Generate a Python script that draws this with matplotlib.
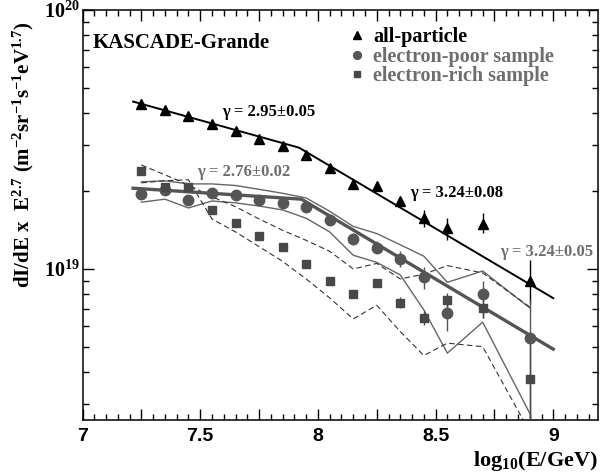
import numpy as np
import matplotlib
matplotlib.use("Agg")
import matplotlib.pyplot as plt
from matplotlib.ticker import FixedLocator, FuncFormatter, NullFormatter, LogLocator

# ---------------- data (fluxes in units of 1e18 m^-2 sr^-1 s^-1 eV^1.7) ----------------
log_e = [7.25, 7.35, 7.45, 7.55, 7.65, 7.75, 7.85, 7.95, 8.05, 8.15, 8.25, 8.35, 8.45, 8.55, 8.70, 8.90]

all_flux = [43.3, 41.1, 39.1, 36.3, 34.2, 31.7, 29.9, 27.5, 24.5, 21.3, 20.9, 18.3, 15.7, 14.4, 14.9, 9.0]
all_err_lo = [0, 0, 0, 0, 0, 0, 0, 0, 0, 0, 0, 0, 1.2, 1.5, 1.1, 1.7]
all_err_hi = [0, 0, 0, 0, 0, 0, 0, 0, 0, 0, 0, 0, 1.2, 1.3, 1.5, 1.8]

poor_flux = [19.4, 20.2, 18.5, 19.6, 19.3, 18.5, 17.9, 17.3, 15.5, 13.1, 12.1, 10.9, 9.31, 6.74, 7.98, 5.43]
poor_err_lo = [0, 0, 0, 0, 0, 0, 0, 0, 0, 0.7, 0.6, 0.75, 0.94, 1.0, 1.53, 2.9]
poor_err_hi = [0, 0, 0, 0, 0, 0, 0, 0, 0, 0.7, 0.7, 0.8, 0.87, 0.83, 0.98, 2.18]

rich_flux = [23.9, 20.7, 20.7, 16.9, 15.0, 13.46, 12.2, 10.42, 9.02, 8.0, 8.8, 7.41, 6.49, 7.59, 7.09, 3.75]
rich_err_lo = [0, 0, 0, 0, 0, 0, 0, 0, 0, 0, 0, 0.35, 0.4, 0.5, 0.6, 1.3]
rich_err_hi = [0, 0, 0, 0, 0, 0, 0, 0, 0, 0, 0, 0.35, 0.4, 0.5, 0.6, 1.5]

# systematic bands
poor_band_hi = [21.7, 21.9, 21.3, 21.3, 21.0, 20.3, 19.6, 18.8, 16.7, 14.6, 13.7, 12.4, 11.2, 8.88, 9.82, 7.07]
poor_band_lo = [18.1, 18.6, 17.2, 18.3, 18.0, 17.5, 16.9, 15.7, 13.9, 11.3, 10.6, 9.48, 6.95, 4.73, 6.23, 2.77]
rich_band_hi = [25.2, 23.1, 21.1, 19.0, 17.4, 15.6, 14.1, 12.9, 11.7, 10.0, 10.5, 9.15, 9.54, 10.3, 9.65, 7.13]
rich_band_lo = [21.5, 21.9, 22.1, 15.6, 13.9, 12.2, 10.7, 9.15, 7.73, 6.41, 7.24, 5.73, 4.63, 5.17, 5.01, 2.35]

# broken power-law fits (start, knee, end)
fit_all_x = [7.215, 7.92, 9.0]
fit_all_y = [44.3, 29.4, 7.71]
fit_poor_x = [7.215, 7.93, 9.0]
fit_poor_y = [20.5, 18.6, 4.90]

legend_labels = ["all-particle", "electron-poor sample", "electron-rich sample"]
gamma_texts = ["\u03b3 = 2.95\u00b10.05", "\u03b3 = 2.76\u00b10.02",
               "\u03b3 = 3.24\u00b10.08", "\u03b3 = 3.24\u00b10.05"]

UNIT = 1e18
def sc(v):
    return np.asarray(v, dtype=float) * UNIT

# ---------------- style ----------------
plt.rcParams["font.family"] = ["Liberation Serif", "DejaVu Serif"]
plt.rcParams["font.weight"] = "bold"
plt.rcParams["mathtext.fontset"] = "custom"
plt.rcParams["mathtext.rm"] = "Liberation Serif"
plt.rcParams["mathtext.bf"] = "Liberation Serif:bold"
plt.rcParams["mathtext.it"] = "Liberation Serif:italic"

BLACK = "#000000"
GREY_M = "#555555"
GREY_S = "#484848"
GREY_L = "#666666"
GREY_T = "#6e6e6e"

fig = plt.figure(figsize=(6.01, 4.74), dpi=100)
ax = fig.add_axes([82.5 / 601, 1 - 420 / 474, (598 - 82.5) / 601, 410 / 474])
ax.set_yscale("log")

# bands
ax.plot(log_e, sc(poor_band_hi), color=GREY_L, lw=1.0, zorder=2)
ax.plot(log_e, sc(poor_band_lo), color=GREY_L, lw=1.0, zorder=2)
ax.plot(log_e, sc(rich_band_hi), color="#333333", lw=0.8, ls=(0, (5, 3)), zorder=2)
ax.plot(log_e, sc(rich_band_lo), color="#333333", lw=0.8, ls=(0, (5, 3)), zorder=2)

# fits
ax.plot(fit_all_x, sc(fit_all_y), color=BLACK, lw=1.4, zorder=3)
ax.plot(fit_poor_x, sc(fit_poor_y), color=GREY_M, lw=2.4, zorder=3)

# error bars
ax.errorbar(log_e, sc(all_flux), yerr=[sc(all_err_lo), sc(all_err_hi)], fmt="none",
            ecolor=BLACK, elinewidth=1.0, capsize=0, zorder=4)
ax.errorbar(log_e, sc(poor_flux), yerr=[sc(poor_err_lo), sc(poor_err_hi)], fmt="none",
            ecolor=GREY_M, elinewidth=1.0, capsize=0, zorder=4)
ax.errorbar(log_e, sc(rich_flux), yerr=[sc(rich_err_lo), sc(rich_err_hi)], fmt="none",
            ecolor=GREY_S, elinewidth=1.0, capsize=0, zorder=4)

# markers
h_all, = ax.plot(log_e, sc(all_flux), ls="none", marker="^", ms=7.5, color=BLACK, mec=BLACK, zorder=5)
h_poor, = ax.plot(log_e, sc(poor_flux), ls="none", marker="o", ms=7.5, color=GREY_M, mec=GREY_M, zorder=5)
h_rich, = ax.plot(log_e, sc(rich_flux), ls="none", marker="s", ms=6.2, color=GREY_S, mec=GREY_S, zorder=5)

# limits
ax.set_xlim(7.0, 9.19)
ax.set_ylim(2.61e18, 1e20)

# ticks
ax.xaxis.set_major_locator(FixedLocator(np.arange(7.0, 9.2, 0.25)))
ax.xaxis.set_minor_locator(FixedLocator(np.arange(7.0, 9.2, 0.05)))
ax.xaxis.set_major_formatter(FuncFormatter(
    lambda v, p: ("%g" % v) if abs(v * 2 - round(v * 2)) < 1e-6 else ""))
ax.yaxis.set_major_locator(FixedLocator([1e19, 1e20]))
ax.yaxis.set_minor_locator(LogLocator(base=10, subs=np.arange(2, 10)))
ax.yaxis.set_major_formatter(FuncFormatter(
    lambda v, p: r"$\mathbf{10^{%d}}$" % int(round(np.log10(v)))))
ax.yaxis.set_minor_formatter(NullFormatter())

ax.tick_params(which="both", direction="in", top=True, right=True, width=1.0)
ax.tick_params(which="major", length=8)
ax.tick_params(which="minor", length=4.5)
ax.tick_params(axis="x", which="major", labelsize=14, pad=6, labelfontfamily="Liberation Sans")
ax.tick_params(axis="y", which="major", labelsize=14.5, pad=2)
for s in ax.spines.values():
    s.set_linewidth(1.1)

# labels
ax.set_ylabel(r"$\mathbf{dI/dE\ x\ \ E^{2.7}\ (m^{-2}sr^{-1}s^{-1}eV^{1.7})}$",
              fontsize=15, loc="top")
ax.yaxis.set_label_coords(-0.09, 0.972)
ax.set_xlabel(r"$\mathbf{log_{10}(E/GeV)}$", fontsize=16, loc="right")
ax.xaxis.set_label_coords(1.0, -0.07)

ax.text(0.02, 0.92, "KASCADE-Grande", transform=ax.transAxes, fontsize=15,
        fontweight="bold", ha="left", va="center", color=BLACK)

# gamma annotations
ax.text(7.593, 4.04e19, gamma_texts[0], fontsize=12, fontweight="bold", color=BLACK, va="center", ha="left")
ax.text(7.487, 2.36e19, gamma_texts[1], fontsize=12, fontweight="bold", color=GREY_T, va="center", ha="left")
ax.text(8.392, 1.96e19, gamma_texts[2], fontsize=12, fontweight="bold", color=BLACK, va="center", ha="left")
ax.text(8.775, 1.166e19, gamma_texts[3], fontsize=12, fontweight="bold", color=GREY_T, va="center", ha="left")

leg = ax.legend([h_all, h_poor, h_rich], legend_labels, loc="upper left",
                bbox_to_anchor=(0.515, 0.958), frameon=False,
                prop={"family": "Liberation Serif", "weight": "bold", "size": 14.5},
                handlelength=0.9, handletextpad=0.35, labelspacing=-0.02,
                borderpad=0.0, borderaxespad=0.0, markerscale=0.75,
                labelcolor=[BLACK, GREY_T, GREY_T])

fig.savefig("out.png", dpi=100)
